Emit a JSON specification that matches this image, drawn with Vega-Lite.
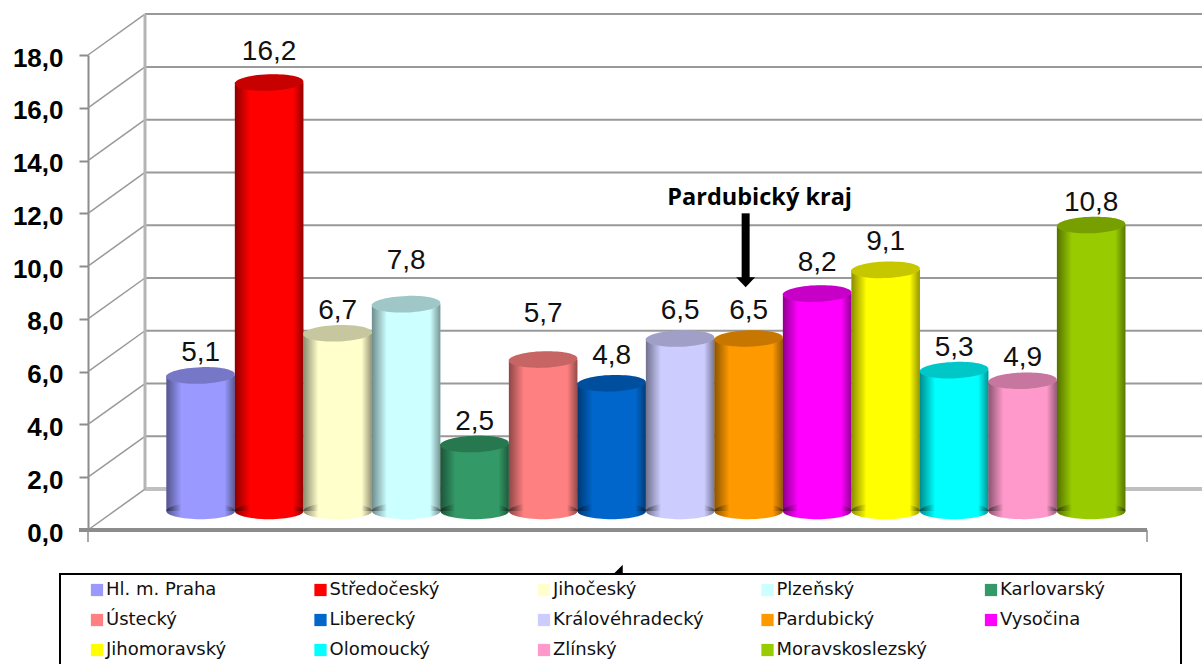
{
"$schema":"https://vega.github.io/schema/vega-lite/v6.json",
"width":1057,"height":475,
"padding":{"left":88,"top":55,"right":57,"bottom":134},
"autosize":{"type":"none"},
"background":"white",
"datasets":{
"regions":[
{"kraj":"Hl. m. Praha","value":5.1,"label":"5,1","labelAt":6.7},
{"kraj":"Středočeský","value":16.2,"label":"16,2","labelAt":18.1},
{"kraj":"Jihočeský","value":6.7,"label":"6,7","labelAt":8.3},
{"kraj":"Plzeňský","value":7.8,"label":"7,8","labelAt":10.2},
{"kraj":"Karlovarský","value":2.5,"label":"2,5","labelAt":4.1},
{"kraj":"Ústecký","value":5.7,"label":"5,7","labelAt":8.2},
{"kraj":"Liberecký","value":4.8,"label":"4,8","labelAt":6.6},
{"kraj":"Královéhradecký","value":6.5,"label":"6,5","labelAt":8.3},
{"kraj":"Pardubický","value":6.5,"label":"6,5","labelAt":8.3},
{"kraj":"Vysočina","value":8.2,"label":"8,2","labelAt":10.1},
{"kraj":"Jihomoravský","value":9.1,"label":"9,1","labelAt":10.9},
{"kraj":"Olomoucký","value":5.3,"label":"5,3","labelAt":6.9},
{"kraj":"Zlínský","value":4.9,"label":"4,9","labelAt":6.5},
{"kraj":"Moravskoslezský","value":10.8,"label":"10,8","labelAt":12.4}
],
"ticks":[{"v":0,"back":1.55},{"v":2,"back":3.55},{"v":4,"back":5.55},{"v":6,"back":7.55},{"v":8,"back":9.55},{"v":10,"back":11.55},{"v":12,"back":13.55},{"v":14,"back":15.55},{"v":16,"back":17.55},{"v":18,"back":19.55}],
"note":[{"kraj":"Pardubický","text":"Pardubický kraj","at":12.6,"from":12.0,"to":9.4}]
},
"encoding":{},
"layer":[
{"layer":[
{"data":{"name":"ticks"},"mark":{"type":"rule","color":"#999999","strokeWidth":2},
 "encoding":{"x":{"datum":57,"type":"quantitative","scale":{"domain":[0,1057],"range":[0,1057],"nice":false,"zero":false},"axis":null},"x2":{"datum":1114},"y":{"field":"back","type":"quantitative","scale":{"domain":[0,18]},"axis":{"values":[0,2,4,6,8,10,12,14,16,18],"grid":false,"labelExpr":"replace(format(datum.value,'.1f'),'.',',')","labelFont":"Liberation Sans","labelFontWeight":"bold","labelFontSize":26,"labelColor":"#000000","labelPadding":16,"labelOffset":3,"tickColor":"#8c8c8c","tickSize":9,"tickWidth":2,"domainColor":"#8c8c8c","domainWidth":2,"title":null}}}},
{"data":{"values":[{"a":1.55}]},"mark":{"type":"rule","color":"#c0c0c0","strokeWidth":4},
 "encoding":{"x":{"datum":57,"type":"quantitative","scale":{"domain":[0,1057],"range":[0,1057],"nice":false,"zero":false}},"x2":{"datum":1114},"y":{"field":"a","type":"quantitative"}}},
{"data":{"name":"ticks"},"mark":{"type":"rule","color":"#999999","strokeWidth":1.5},
 "encoding":{"x":{"datum":0,"type":"quantitative","scale":{"domain":[0,1057],"range":[0,1057],"nice":false,"zero":false}},"x2":{"datum":57},"y":{"field":"v","type":"quantitative"},"y2":{"field":"back"}}},
{"data":{"values":[{"a":1.55,"b":19.55}]},"mark":{"type":"rule","color":"#b5b5b5","strokeWidth":3},
 "encoding":{"x":{"datum":57,"type":"quantitative","scale":{"domain":[0,1057],"range":[0,1057],"nice":false,"zero":false}},"y":{"field":"a","type":"quantitative"},"y2":{"field":"b"}}},
{"data":{"values":[{"a":0}]},"mark":{"type":"rule","color":"#8c8c8c","strokeWidth":4},
 "encoding":{"x":{"datum":-9,"type":"quantitative","scale":{"domain":[0,1057],"range":[0,1057],"nice":false,"zero":false}},"x2":{"datum":1059},"y":{"field":"a","type":"quantitative"}}},
{"data":{"values":[{"a":0,"b":-0.45,"p":0},{"a":0,"b":-0.45,"p":1059}]},"mark":{"type":"rule","color":"#8c8c8c","strokeWidth":1.5},
 "encoding":{"x":{"field":"p","type":"quantitative","scale":{"domain":[0,1057],"range":[0,1057],"nice":false,"zero":false}},"y":{"field":"a","type":"quantitative"},"y2":{"field":"b"}}},
{"data":{"values":[{"a":-1.667,"b":-5.2}]},"mark":{"type":"rect","fill":null,"stroke":"black","strokeWidth":2},
 "encoding":{"x":{"datum":-28,"type":"quantitative","scale":{"domain":[0,1057],"range":[0,1057],"nice":false,"zero":false}},"x2":{"datum":1093},"y":{"field":"a","type":"quantitative"},"y2":{"field":"b"}}},
{"data":{"values":[{"a":-1.5}]},"mark":{"type":"point","filled":true,"opacity":1,"color":"black","shape":"M-1,1L1,1L1,-1Z","size":90},
 "encoding":{"x":{"datum":530,"type":"quantitative","scale":{"domain":[0,1057],"range":[0,1057],"nice":false,"zero":false}},"y":{"field":"a","type":"quantitative"}}}
]},
{"layer":[
{"data":{"name":"regions"},"mark":{"type":"point","filled":true,"opacity":1,"yOffset":-19,"shape":"M-1,0A1,0.24,0,1,0,1,0A1,0.24,0,1,0,-1,0Z"},
 "encoding":{"x":{"field":"kraj","type":"nominal","sort":null,"scale":{"paddingInner":0,"paddingOuter":0.715,"align":0.8},"axis":null},"y":{"datum":0,"type":"quantitative"},"size":{"value":4700},
 "color":{"field":"kraj","type":"nominal","sort":null,"scale":{"domain":["Hl. m. Praha","Středočeský","Jihočeský","Plzeňský","Karlovarský","Ústecký","Liberecký","Královéhradecký","Pardubický","Vysočina","Jihomoravský","Olomoucký","Zlínský","Moravskoslezský"],"range":["#9999FF","#FF0000","#FFFFCC","#CCFFFF","#339966","#FF8080","#0066CC","#CCCCFF","#FF9900","#FF00FF","#FFFF00","#00FFFF","#FF99CC","#99CC00"]},
 "legend":{"orient":"none","legendX":0,"legendY":526,"direction":"horizontal","columns":5,"gridAlign":"all","title":null,"symbolType":"square","symbolSize":150,"symbolStrokeWidth":0,"symbolOpacity":1,"labelFont":"DejaVu Sans","labelFontSize":18,"labelColor":"#111111","labelLimit":200,"columnPadding":54.5,"rowPadding":12,"labelOffset":0,"padding":0}}}},
{"data":{"name":"regions"},"mark":{"type":"bar","yOffset":-20,"y2Offset":-19,"width":{"band":1}},
 "encoding":{"x":{"field":"kraj","type":"nominal","sort":null},"y":{"field":"value","type":"quantitative"},"y2":{"datum":0},
 "color":{"field":"kraj","type":"nominal","sort":null}}},
{"data":{"name":"regions"},"mark":{"type":"point","filled":true,"opacity":1,"color":"black","yOffset":-19,"shape":"M-1,0A1,0.24,0,1,0,1,0A1,0.24,0,1,0,-1,0Z","fill":{"gradient":"linear","x1":0,"x2":1,"y1":0,"y2":0,"stops":[{"offset":0,"color":"rgba(0,0,0,0.45)"},{"offset":0.22,"color":"rgba(0,0,0,0)"},{"offset":0.85,"color":"rgba(0,0,0,0)"},{"offset":1,"color":"rgba(0,0,0,0.42)"}]}},
 "encoding":{"x":{"field":"kraj","type":"nominal","sort":null},"y":{"datum":0,"type":"quantitative"},"size":{"value":4700}}},
{"data":{"name":"regions"},"mark":{"type":"bar","yOffset":-20,"y2Offset":-19,"width":{"band":1},"fill":{"gradient":"linear","x1":0,"x2":1,"y1":0,"y2":0,"stops":[{"offset":0,"color":"rgba(0,0,0,0.45)"},{"offset":0.22,"color":"rgba(0,0,0,0)"},{"offset":0.85,"color":"rgba(0,0,0,0)"},{"offset":1,"color":"rgba(0,0,0,0.42)"}]}},
 "encoding":{"x":{"field":"kraj","type":"nominal","sort":null},"y":{"field":"value","type":"quantitative"},"y2":{"datum":0}}},
{"data":{"name":"regions"},"mark":{"type":"point","filled":true,"opacity":1,"yOffset":-20,"shape":"M-1,0.03A1,0.24,-2,1,1,1,-0.03A1,0.24,-2,1,1,-1,0.03Z"},
 "encoding":{"x":{"field":"kraj","type":"nominal","sort":null},"y":{"field":"value","type":"quantitative"},"size":{"value":4700},"color":{"field":"kraj","type":"nominal","sort":null}}},
{"data":{"name":"regions"},"mark":{"type":"point","filled":true,"opacity":0.22,"color":"black","yOffset":-20,"shape":"M-1,0.03A1,0.24,-2,1,1,1,-0.03A1,0.24,-2,1,1,-1,0.03Z"},
 "encoding":{"x":{"field":"kraj","type":"nominal","sort":null},"y":{"field":"value","type":"quantitative"},"size":{"value":4700}}},
{"data":{"name":"regions"},"mark":{"type":"text","font":"Liberation Sans","fontSize":28,"color":"#111111","baseline":"middle"},
 "encoding":{"x":{"field":"kraj","type":"nominal","sort":null},"y":{"field":"labelAt","type":"quantitative"},"text":{"field":"label"}}},
{"data":{"name":"note"},"mark":{"type":"rule","color":"black","strokeWidth":8,"xOffset":-3},
 "encoding":{"x":{"field":"kraj","type":"nominal","sort":null},"y":{"field":"from","type":"quantitative"},"y2":{"field":"to"}}},
{"data":{"name":"note"},"mark":{"type":"point","filled":true,"opacity":1,"color":"black","shape":"M-1,-0.5L1,-0.5L0,0.55Z","size":361,"xOffset":-3},
 "encoding":{"x":{"field":"kraj","type":"nominal","sort":null},"y":{"field":"to","type":"quantitative"}}},
{"data":{"name":"note"},"mark":{"type":"text","font":"Open Sans","fontWeight":"bold","fontSize":23.5,"color":"black","xOffset":11},
 "encoding":{"x":{"field":"kraj","type":"nominal","sort":null},"y":{"field":"at","type":"quantitative"},"text":{"field":"text"}}}
]}
],
"resolve":{"scale":{"x":"independent","y":"shared","color":"shared"}},
"config":{"view":{"stroke":null}}
}
